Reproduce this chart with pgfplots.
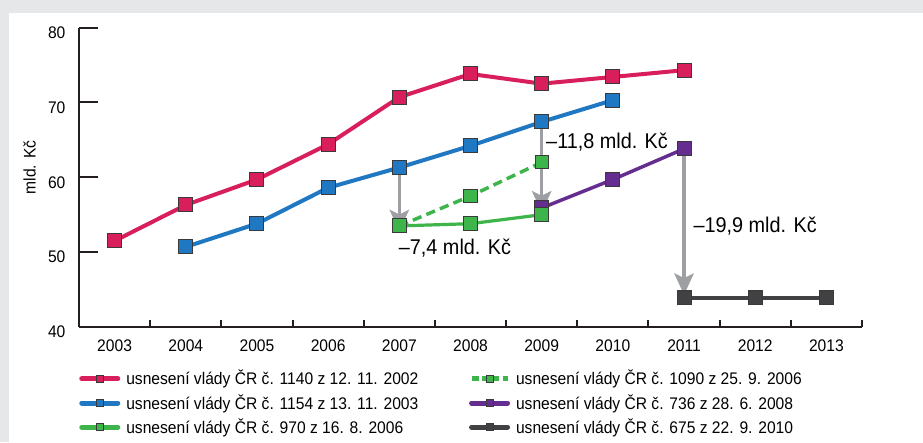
\documentclass[border=0pt]{standalone}
\usepackage{fontspec}
\setmainfont{Liberation Sans}[FakeStretch=0.93]
\usepackage{pgfplots}
\pgfplotsset{compat=1.18}
\usetikzlibrary{arrows.meta}
\definecolor{bggray}{HTML}{E6E7E8}
\definecolor{axisc}{HTML}{231F20}
\definecolor{cred}{HTML}{D81E5B}
\definecolor{cblue}{HTML}{1F78C1}
\definecolor{cgreen}{HTML}{3DB54A}
\definecolor{cpurple}{HTML}{662D91}
\definecolor{cdark}{HTML}{414042}
\definecolor{medge}{HTML}{3A3A3A}
\definecolor{arrowc}{HTML}{9D9FA2}
\begin{document}
\fontsize{12.6}{15}\selectfont
\begin{tikzpicture}
\fill[bggray] (0,0) rectangle (692.25pt,331.5pt);
\fill[white] (6.75pt,0) rectangle (692.25pt,321.75pt);
\path[use as bounding box] (0,0) rectangle (692.25pt,331.5pt);
\node[rotate=90, inner sep=0pt] at (22.1pt,205.9pt) {mld. Kč};
\begin{axis}[
  at={(59.25pt,86.25pt)}, anchor=south west, scale only axis,
  width=587.25pt, height=224.6pt,
  xmin=-0.5, xmax=10.5, ymin=40, ymax=80,
  axis lines=left,
  axis line style={-, line width=1.5pt, color=axisc},
  xtick={0,1,...,10},
  xticklabels={2003,2004,2005,2006,2007,2008,2009,2010,2011,2012,2013},
  every major x tick/.append style={draw=none},
  minor xtick={-0.5,0.5,...,10.5},
  ytick={40,50,60,70,80},
  yticklabels={40,50,60,70,80},
  tick align=inside,
  major tick length=14.25pt, minor tick length=5.25pt,
  tick style={line width=1.5pt, color=axisc},
  xticklabel style={inner sep=0pt, anchor=north, yshift=-9.75pt},
  yticklabel style={inner sep=0pt, anchor=east, xshift=-10pt, yshift=-3.75pt},
  clip=false,
  legend columns=2,
  legend cell align=left,
  legend style={at={(axis description cs:0.0,-0.1436)}, anchor=north west,
    draw=none, fill=none, inner sep=0pt, row sep=5.2pt,
    nodes={inner sep=0pt},
    /tikz/every odd column/.append style={column sep=4.5pt},
    /tikz/every even column/.append style={column sep=38pt}},
  legend image code/.code={\draw[mark repeat=2, mark phase=2, #1] plot coordinates {(0pt,0pt) (13.5pt,0pt) (27pt,0pt)};},
]
% legend entries (row-wise order)
\addlegendimage{cred, line width=3.75pt, line cap=round, mark=square*, mark size=2.6pt, mark options={fill=cred, draw=medge, line width=0.6pt}}
\addlegendentry{usnesení vlády ČR č. 1140 z 12. 11. 2002}
\addlegendimage{cgreen, line width=3.75pt, dash pattern=on 5.25pt off 2.5pt, mark=square*, mark size=2.6pt, mark options={solid, fill=cgreen, draw=medge, line width=0.6pt}}
\addlegendentry{usnesení vlády ČR č. 1090 z 25. 9. 2006}
\addlegendimage{cblue, line width=3.75pt, line cap=round, mark=square*, mark size=2.6pt, mark options={fill=cblue, draw=medge, line width=0.6pt}}
\addlegendentry{usnesení vlády ČR č. 1154 z 13. 11. 2003}
\addlegendimage{cpurple, line width=3.75pt, line cap=round, mark=square*, mark size=2.6pt, mark options={fill=cpurple, draw=medge, line width=0.6pt}}
\addlegendentry{usnesení vlády ČR č. 736 z 28. 6. 2008}
\addlegendimage{cgreen, line width=3.75pt, line cap=round, mark=square*, mark size=2.6pt, mark options={fill=cgreen, draw=medge, line width=0.6pt}}
\addlegendentry{usnesení vlády ČR č. 970 z 16. 8. 2006}
\addlegendimage{cdark, line width=3.75pt, line cap=round, mark=square*, mark size=2.6pt, mark options={fill=cdark, draw=medge, line width=0.6pt}}
\addlegendentry{usnesení vlády ČR č. 675 z 22. 9. 2010}
% series
\addplot[forget plot, cred, line width=3pt, mark=square*, mark size=5.25pt, mark options={fill=cred, draw=medge, line width=0.75pt}]
  coordinates {(0,51.5) (1,56.3) (2,59.7) (3,64.4) (4,70.7) (5,73.8) (6,72.5) (7,73.4) (8,74.3)};
\addplot[forget plot, cblue, line width=3pt, mark=square*, mark size=5.25pt, mark options={fill=cblue, draw=medge, line width=0.75pt}]
  coordinates {(1,50.7) (2,53.8) (3,58.6) (4,61.3) (5,64.2) (6,67.4) (7,70.3)};
\addplot[forget plot, cpurple, line width=2.6pt, mark=square*, mark size=5.25pt, mark options={fill=cpurple, draw=medge, line width=0.75pt}]
  coordinates {(6,55.9) (7,59.7) (8,63.8)};
\addplot[forget plot, cdark, line width=2.6pt, mark=square*, mark size=5.25pt, mark options={fill=cdark, draw=medge, line width=0.75pt}]
  coordinates {(8,43.9) (9,43.9) (10,43.9)};
\addplot[forget plot, cgreen, line width=2.6pt, dash pattern=on 7pt off 4pt, mark=square*, mark size=4.9pt, mark options={solid, fill=cgreen, draw=medge, line width=0.75pt}]
  coordinates {(4,53.5) (5,57.5) (6,62.0)};
\addplot[forget plot, cgreen, line width=2.4pt, mark=square*, mark size=5.25pt, mark options={fill=cgreen, draw=medge, line width=0.75pt}]
  coordinates {(4,53.5) (5,53.8) (6,55.0)};
% difference arrows
\addplot[forget plot, arrowc, line width=2.6pt, -{Stealth[length=16pt,width=14.5pt,inset=3.5pt]}]
  coordinates {(4,61.3) (4,52.8)};
\addplot[forget plot, arrowc, line width=2.6pt, -{Stealth[length=16pt,width=14.5pt,inset=3.5pt]}]
  coordinates {(6,67.4) (6,55.3)};
\addplot[forget plot, arrowc, line width=2.6pt, -{Stealth[length=16pt,width=14.5pt,inset=3.5pt]}]
  coordinates {(8,63.8) (8,44.3)};
\node[anchor=west, inner sep=0pt, font=\fontsize{16}{19}\selectfont] at (axis cs:3.99,50.56) {–7,4 mld. Kč};
\node[anchor=west, inner sep=0pt, font=\fontsize{16}{19}\selectfont] at (axis cs:6.06,64.75) {–11,8 mld. Kč};
\node[anchor=west, inner sep=0pt, font=\fontsize{16}{19}\selectfont] at (axis cs:8.13,53.5) {–19,9 mld. Kč};
\end{axis}
\end{tikzpicture}
\end{document}
